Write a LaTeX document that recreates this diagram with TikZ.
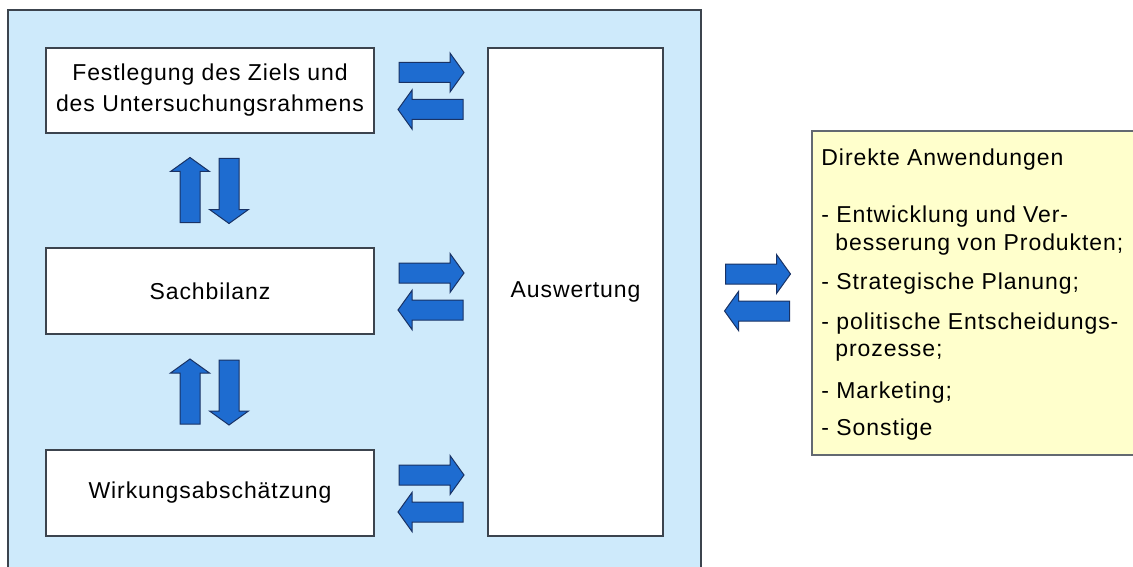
\documentclass[tikz,border=0pt]{standalone}
\usepackage{fontspec}
\setmainfont{Liberation Sans}[LetterSpace=4]
\usetikzlibrary{calc}

\definecolor{frameblue}{RGB}{206,234,251}
\definecolor{arrowblue}{RGB}{30,108,208}
\definecolor{arrowline}{RGB}{25,50,100}
\definecolor{boxline}{RGB}{60,68,78}
\definecolor{noteyellow}{RGB}{255,255,204}

\tikzset{
  stepbox/.style={draw=boxline,line width=1.5pt,fill=white,inner sep=0pt,
    align=center,font=\fontsize{23}{31}\selectfont},
  notebox/.style={draw=boxline!80,line width=1.5pt,fill=noteyellow,inner sep=0pt},
  blockarrow/.style={draw=arrowline,line width=1pt,fill=arrowblue},
}

% block arrow pointing right, centred on #1, turned by #2
\newcommand{\blockarrow}[2]{%
  \path[blockarrow,shift={#1},rotate=#2] (-32,-10) -- (19,-10) -- (19,-19.5)
    -- (33,0) -- (19,19.5) -- (19,10) -- (-32,10) -- cycle;}

\begin{document}
\begin{tikzpicture}[x=1pt,y=-1pt]
\useasboundingbox (0,0) rectangle (1133,567);
% frame
\path[draw=boxline,fill=frameblue,line width=1.5pt] (8,10) rectangle (701,580);
% boxes
\node[stepbox,minimum width=328,minimum height=85] (ziel) at (210,90.5)
  {Festlegung des Ziels und\\des Untersuchungsrahmens};
\node[stepbox,minimum width=328,minimum height=86] (sach) at (210,291) {Sachbilanz};
\node[stepbox,minimum width=328,minimum height=86] (wirk) at (210,493) {Wirkungsabschätzung};
\node[stepbox,minimum width=175,minimum height=488] (ausw) at (575.5,292) {Auswertung};
\node[notebox,minimum width=328,minimum height=324] (anw) at (976,293) {};
\node[anchor=north west,inner sep=0pt,align=left,font=\fontsize{23}{27.5}\selectfont]
  (anwtext) at ([xshift=10pt,yshift=-18pt]anw.north west)
  {Direkte Anwendungen\\[30pt]
   - Entwicklung und Ver-\\\hspace*{14pt}besserung von Produkten;\\[12pt]
   - Strategische Planung;\\[12pt]
   - politische Entscheidungs-\\\hspace*{14pt}prozesse;\\[14pt]
   - Marketing;\\[10pt]
   - Sonstige};
% arrow positions
\coordinate (h1) at ($(ziel.east)!0.5!(ausw.west |- ziel.east)$);
\coordinate (h2) at ($(sach.east)!0.5!(ausw.west |- sach.east)$);
\coordinate (h3) at ($(wirk.east)!0.5!(ausw.west |- wirk.east)$);
\coordinate (h4) at ([xshift=20pt]$(ausw.east)!0.5!(anw.west |- ausw.east)$);
\coordinate (v1) at ($(ziel.south)!0.5!(sach.north)$);
\coordinate (v2) at ($(sach.south)!0.5!(wirk.north)$);
% arrows
\foreach \h in {h1,h2,h3,h4}{
  \blockarrow{([yshift=18pt]\h)}{0}
  \blockarrow{([yshift=-19pt]\h)}{180}
}
\foreach \v in {v1,v2}{
  \blockarrow{([xshift=-20pt]\v)}{90}
  \blockarrow{([xshift=19pt]\v)}{-90}
}
\end{tikzpicture}
\end{document}
